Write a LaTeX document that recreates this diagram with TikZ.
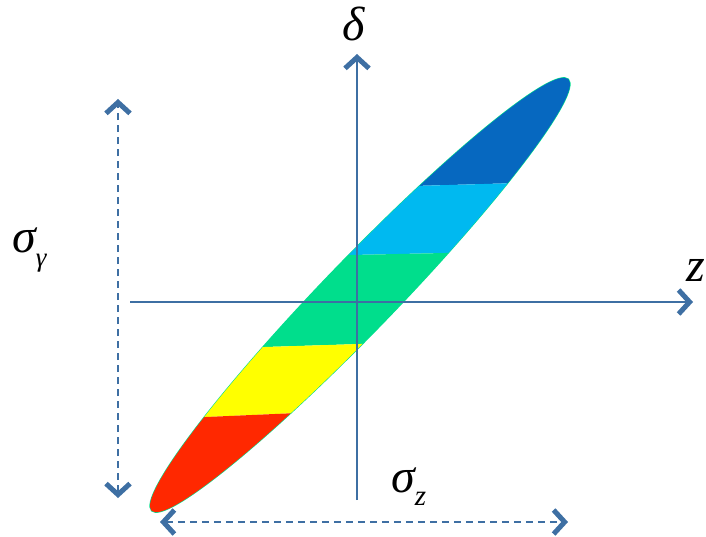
\documentclass[tikz,border=0pt]{standalone}
\usepackage{fontspec}
\setmainfont{Liberation Serif}
\usetikzlibrary{arrows.meta}
\definecolor{ax}{RGB}{62,111,163}
\definecolor{cdb}{RGB}{6,104,192}
\definecolor{clb}{RGB}{0,185,240}
\definecolor{cgr}{RGB}{0,222,140}
\definecolor{cye}{RGB}{255,255,0}
\definecolor{cre}{RGB}{255,40,0}
\begin{document}
\begin{tikzpicture}[x=1pt,y=1pt,
  tipb/.tip={Straight Barb[length=11pt,width=24pt,line width=5pt]},
  axisline/.style={draw=ax, line width=1.7pt, -tipb},
  dimline/.style={draw=ax, line width=1.9pt, dash pattern=on 7pt off 5pt, tipb-tipb},
  lbl/.style={font=\fontsize{48}{48}\selectfont\itshape, inner sep=0pt}]
\useasboundingbox (0,0) rectangle (706,536);
\clip (0,0) rectangle (706,536);
% beam ellipse
\draw[cgr, line width=1.2pt] (360,241) ellipse [x radius=300, y radius=36, rotate=46];
\begin{scope}
  \clip (360,241) ellipse [x radius=300, y radius=36, rotate=46];
  \fill[cdb] (100,341) -- (620,355.9) -- (620,536) -- (100,536) -- cycle;
  \fill[clb] (100,275.7) -- (620,286.7) -- (620,355.9) -- (100,341) -- cycle;
  \fill[cgr] (100,183.8) -- (620,200.2) -- (620,286.7) -- (100,275.7) -- cycle;
  \fill[cye] (100,114.4) -- (620,137) -- (620,200.2) -- (100,183.8) -- cycle;
  \fill[cre] (100,0) -- (620,0) -- (620,137) -- (100,114.4) -- cycle;
\end{scope}
% axes
\coordinate (hx0) at (130,234);
\coordinate (hx1) at (693,234);
\coordinate (vy0) at (357,36);
\coordinate (vy1) at (357,482);
\draw[axisline] (hx0) -- (hx1);
\draw[axisline] (vy0) -- (vy1);
% dimension arrows
\coordinate (dv0) at (118,38);
\coordinate (dv1) at (118,437);
\coordinate (dh0) at (160,14);
\coordinate (dh1) at (568,14);
\draw[dimline] (dv0) -- (dv1);
\draw[dimline] (dh0) -- (dh1);
% labels
\node[lbl] (delta) at (354,512) {δ};
\node[lbl, anchor=east] (zlab) at (705,266) {z};
\node[lbl, anchor=west] (sg) at (12,286) {σ\raisebox{-15pt}{\fontsize{27}{27}\selectfont γ}};
\node[lbl, anchor=west] (sz) at (391,49) {σ\raisebox{-13pt}{\fontsize{29}{29}\selectfont z}};
\end{tikzpicture}
\end{document}
